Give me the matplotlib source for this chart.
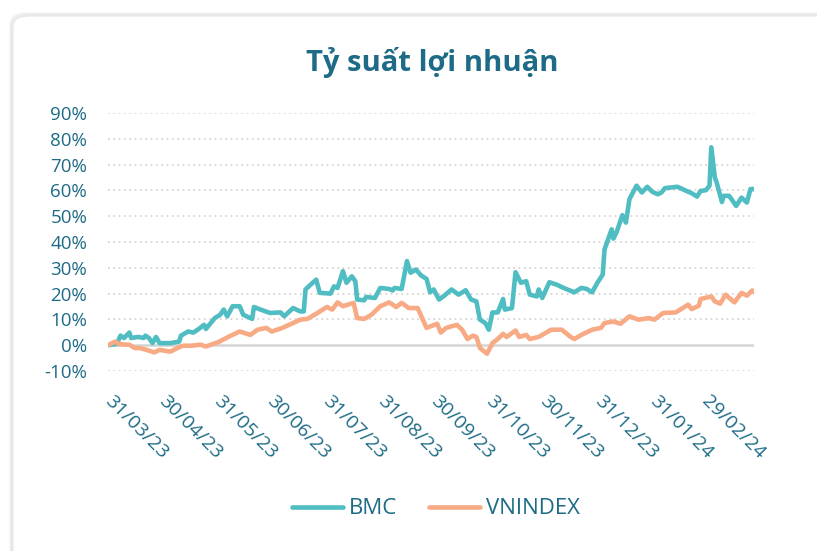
import pandas as pd
import matplotlib
matplotlib.use("Agg")
import matplotlib.pyplot as plt
import matplotlib.dates as mdates
from matplotlib.patches import FancyBboxPatch
from matplotlib.ticker import FuncFormatter

plt.rcParams['font.family'] = ['Open Sans', 'DejaVu Sans']

# BMC return (%)
bmc_dates = ['2023-03-31', '2023-04-05', '2023-04-07', '2023-04-09', '2023-04-12', '2023-04-13',
             '2023-04-17', '2023-04-20', '2023-04-21', '2023-04-23', '2023-04-25', '2023-04-27',
             '2023-04-29', '2023-05-05', '2023-05-10', '2023-05-11', '2023-05-15', '2023-05-18',
             '2023-05-21', '2023-05-24', '2023-05-25', '2023-05-30', '2023-06-02', '2023-06-04',
             '2023-06-06', '2023-06-09', '2023-06-13', '2023-06-15', '2023-06-20', '2023-06-21',
             '2023-06-24', '2023-06-30', '2023-07-06', '2023-07-08', '2023-07-13', '2023-07-17',
             '2023-07-19', '2023-07-20', '2023-07-24', '2023-07-26', '2023-07-28', '2023-08-03',
             '2023-08-05', '2023-08-07', '2023-08-10', '2023-08-12', '2023-08-15', '2023-08-17',
             '2023-08-18', '2023-08-22', '2023-08-23', '2023-08-28', '2023-08-31', '2023-09-05',
             '2023-09-07', '2023-09-08', '2023-09-12', '2023-09-15', '2023-09-17', '2023-09-20',
             '2023-09-23', '2023-09-26', '2023-09-28', '2023-09-30', '2023-10-03', '2023-10-06',
             '2023-10-10', '2023-10-14', '2023-10-18', '2023-10-21', '2023-10-24', '2023-10-26',
             '2023-10-29', '2023-10-31', '2023-11-02', '2023-11-05', '2023-11-08', '2023-11-09',
             '2023-11-13', '2023-11-15', '2023-11-18', '2023-11-21', '2023-11-23', '2023-11-27',
             '2023-11-28', '2023-11-30', '2023-12-04', '2023-12-08', '2023-12-12', '2023-12-18',
             '2023-12-22', '2023-12-25', '2023-12-28', '2023-12-31', '2024-01-03', '2024-01-04',
             '2024-01-08', '2024-01-09', '2024-01-11', '2024-01-14', '2024-01-16', '2024-01-18',
             '2024-01-22', '2024-01-25', '2024-01-28', '2024-01-31', '2024-02-03', '2024-02-05',
             '2024-02-07', '2024-02-14', '2024-02-19', '2024-02-22', '2024-02-25', '2024-02-27',
             '2024-03-01', '2024-03-03', '2024-03-04', '2024-03-06', '2024-03-07', '2024-03-10',
             '2024-03-11', '2024-03-14', '2024-03-18', '2024-03-21', '2024-03-24', '2024-03-26',
             '2024-03-28']
bmc_vals = [0.0, 0.5, 3.7, 2.8, 4.9, 2.8,
            3.2, 2.8, 3.7, 2.8, 0.8, 3.2,
            0.8, 0.8, 1.4, 3.7, 5.3, 4.9,
            6.3, 7.9, 6.3, 10.5, 11.8, 13.8,
            11.2, 15.1, 15.1, 11.8, 10.2, 14.8,
            14.0, 12.5, 12.7, 11.2, 14.4, 13.1,
            13.1, 21.6, 24.2, 25.4, 20.3, 20.0,
            22.8, 22.2, 28.7, 24.2, 26.7, 24.8,
            17.7, 17.4, 18.7, 18.3, 22.2, 21.8,
            21.2, 22.2, 21.8, 32.6, 28.1, 29.3,
            27.0, 25.7, 20.5, 21.6, 17.7, 19.2,
            21.6, 19.6, 21.3, 17.7, 17.0, 9.9,
            8.6, 6.0, 12.7, 12.7, 17.9, 13.8,
            14.4, 28.3, 24.2, 24.8, 19.6, 18.9,
            21.6, 18.3, 24.4, 23.5, 22.2, 20.5,
            22.2, 21.8, 20.5, 24.2, 27.4, 37.1,
            44.9, 41.3, 44.2, 50.4, 47.5, 56.6,
            61.8, 59.2, 61.4, 59.4, 58.5, 59.2,
            60.9, 61.4, 59.8, 58.9, 57.6, 59.8,
            60.1, 61.8, 76.7, 65.0, 63.1, 55.5,
            57.9, 57.9, 54.0, 57.2, 55.3, 60.5,
            60.5]

# VNINDEX return (%)
vn_dates = ['2023-03-31', '2023-04-04', '2023-04-06', '2023-04-10', '2023-04-12', '2023-04-15',
            '2023-04-18', '2023-04-23', '2023-04-26', '2023-04-29', '2023-05-05', '2023-05-09',
            '2023-05-12', '2023-05-17', '2023-05-22', '2023-05-25', '2023-06-01', '2023-06-08',
            '2023-06-13', '2023-06-19', '2023-06-23', '2023-06-28', '2023-07-01', '2023-07-07',
            '2023-07-13', '2023-07-17', '2023-07-21', '2023-07-26', '2023-08-01', '2023-08-04',
            '2023-08-07', '2023-08-10', '2023-08-16', '2023-08-18', '2023-08-22', '2023-08-26',
            '2023-08-31', '2023-09-05', '2023-09-09', '2023-09-12', '2023-09-16', '2023-09-21',
            '2023-09-26', '2023-10-02', '2023-10-04', '2023-10-07', '2023-10-13', '2023-10-16',
            '2023-10-19', '2023-10-22', '2023-10-24', '2023-10-26', '2023-10-30', '2023-11-02',
            '2023-11-05', '2023-11-08', '2023-11-10', '2023-11-15', '2023-11-17', '2023-11-21',
            '2023-11-23', '2023-11-28', '2023-12-01', '2023-12-05', '2023-12-11', '2023-12-16',
            '2023-12-18', '2023-12-22', '2023-12-28', '2024-01-02', '2024-01-04', '2024-01-09',
            '2024-01-13', '2024-01-18', '2024-01-23', '2024-01-29', '2024-02-01', '2024-02-06',
            '2024-02-13', '2024-02-20', '2024-02-22', '2024-02-26', '2024-02-27', '2024-03-04',
            '2024-03-06', '2024-03-09', '2024-03-12', '2024-03-17', '2024-03-21', '2024-03-24',
            '2024-03-27', '2024-03-28']
vn_vals = [0.0, 1.4, 0.5, 0.2, 0.2, -1.1,
           -1.1, -2.1, -2.8, -1.8, -2.5, -1.1,
           -0.2, -0.2, 0.2, -0.5, 1.2, 3.7,
           5.3, 4.0, 6.0, 6.7, 5.3, 6.7,
           8.6, 9.9, 10.2, 12.2, 14.8, 13.8,
           16.6, 15.1, 16.4, 10.5, 10.2, 11.8,
           15.1, 16.6, 14.8, 16.4, 14.4, 14.4,
           6.7, 8.3, 4.9, 6.7, 7.9, 6.0,
           2.4, 3.7, 3.2, -1.1, -3.3, 0.8,
           2.4, 4.4, 3.2, 5.7, 3.2, 4.0,
           2.4, 3.2, 4.4, 6.0, 6.0, 3.2,
           2.4, 4.0, 6.0, 6.7, 8.6, 9.2,
           8.3, 11.2, 9.9, 10.5, 9.9, 12.5,
           12.7, 15.7, 14.0, 15.3, 17.9, 18.9,
           17.0, 16.1, 19.6, 16.6, 20.3, 19.2,
           21.2, 20.7]

tick_dates = ['2023-03-31', '2023-04-30', '2023-05-31', '2023-06-30', '2023-07-31', '2023-08-31',
              '2023-09-30', '2023-10-31', '2023-11-30', '2023-12-31', '2024-01-31', '2024-02-29']

bmc = pd.Series(bmc_vals, index=pd.to_datetime(bmc_dates))
vn = pd.Series(vn_vals, index=pd.to_datetime(vn_dates))

txt = '#1d6b86'
c_bmc = '#4fbdc1'
c_vn = '#f8aa84'

fig = plt.figure(figsize=(8.17, 5.51), dpi=100)
fig.patch.set_facecolor('white')

# card background with soft shadow
W, H = 817, 551
for i, a in enumerate([0.025, 0.04, 0.06]):
    off = 3 - i
    sh = FancyBboxPatch(((13 - off) / W, -0.2), (W + 50) / W, (H - 16 + off) / H + 0.2,
                        boxstyle="round,pad=0,rounding_size=0.02", transform=fig.transFigure,
                        facecolor='none', edgecolor=(0, 0, 0, a), linewidth=1.5, zorder=-3)
    fig.patches.append(sh)
card = FancyBboxPatch((13 / W, -0.2), (W + 50) / W, (H - 16) / H + 0.2,
                      boxstyle="round,pad=0,rounding_size=0.02", transform=fig.transFigure,
                      facecolor='white', edgecolor='#e6e6e6', linewidth=0.8, zorder=-2)
fig.patches.append(card)

ax = fig.add_axes([108 / W, 1 - 371 / H, (754 - 108) / W, (371 - 113) / H])
ax.set_facecolor('none')

ax.plot(bmc.index, bmc.values, color=c_bmc, lw=3.3, label='BMC', zorder=3,
        solid_joinstyle='round', solid_capstyle='round')
ax.plot(vn.index, vn.values, color=c_vn, lw=3.3, label='VNINDEX', zorder=3,
        solid_joinstyle='round', solid_capstyle='round')

ax.set_xlim(pd.Timestamp('2023-03-31'), pd.Timestamp('2024-03-28'))
ax.set_ylim(-10, 90)
ax.set_yticks(range(-10, 91, 10))
ax.yaxis.set_major_formatter(FuncFormatter(lambda v, p: f'{v:.0f}%'))
for v in range(-10, 91, 10):
    if v == 0:
        ax.axhline(0, color='#d4d4d4', lw=1.8, zorder=1)
    else:
        ax.axhline(v, color='#cfcfcf', lw=1.2, ls=(0, (1, 2.2)), zorder=1)

ax.set_xticks(pd.to_datetime(tick_dates))
ax.xaxis.set_major_formatter(mdates.DateFormatter('%d/%m/%y'))
ax.tick_params(axis='x', length=0, pad=20, labelsize=14, labelcolor=txt)
ax.tick_params(axis='y', length=0, pad=15, labelsize=13.5, labelcolor=txt)
for lab in ax.get_xticklabels():
    lab.set_rotation(-45)
    lab.set_rotation_mode('anchor')
    lab.set_ha('left')
    lab.set_va('center')
for lab in ax.get_yticklabels():
    lab.set_ha('right')

for s in ax.spines.values():
    s.set_visible(False)

fig.text(432 / W, 1 - 62 / H, 'Tỷ suất lợi nhuận', ha='center', va='center',
         fontsize=21, fontweight='bold', color=txt)

fig.legend(loc='center', bbox_to_anchor=(436 / W, 1 - 509 / H), ncol=2, frameon=False,
           fontsize=16, labelcolor=txt, handlelength=2.3, handletextpad=0.3, columnspacing=1.4)

fig.savefig('out.png', dpi=100)
